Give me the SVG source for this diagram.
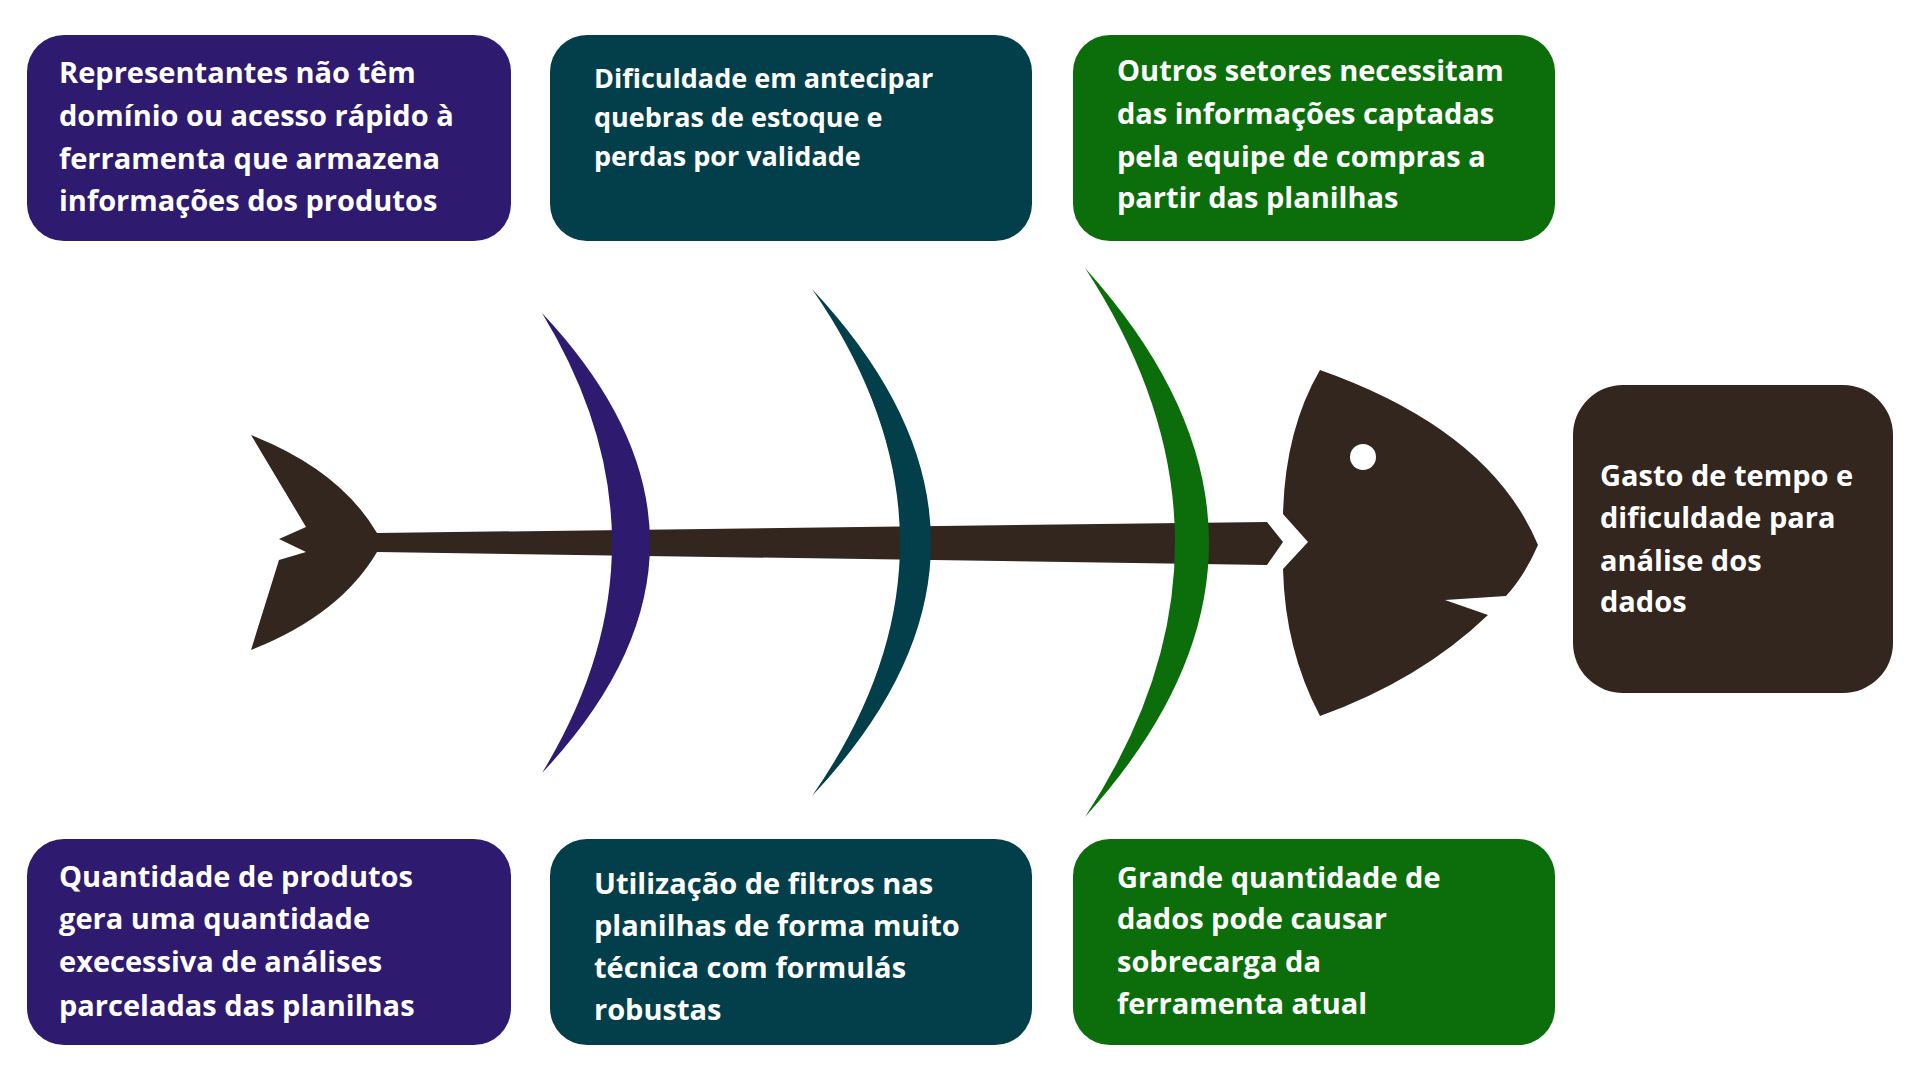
<svg xmlns="http://www.w3.org/2000/svg" width="1920" height="1080" viewBox="0 0 1920 1080">
<style>
.t{font-family:"Open Sans","Noto Sans",sans-serif;font-weight:bold;fill:#fff;font-size:29px}
.s{font-size:27px}
.p{fill:#2e1a6e}.c{fill:#033f4a}.g{fill:#0b6e0b}.b{fill:#32261f}
</style>
<rect width="1920" height="1080" fill="#fff"/>
<g id="fish">
<path class="b" d="M251,435 Q340,470 377,533 L1267,522 L1283,542 L1267,565 L377,552 Q340,615 251,650 L279,560 L306,552 L279,539 L306,527 Z"/>
<path class="b" d="M1320,370 Q1490,430 1538,545 Q1525,575 1506,596 L1445,600 L1488,615 Q1420,680 1320,716 Q1285,650 1283,569 L1308,542 L1283,514 Q1285,430 1320,370 Z"/>
<circle cx="1363" cy="457" r="13" fill="#fff"/>
</g>
<g id="connectors">
<path class="p" d="M542,313 Q758,543 542,773 Q682,543 542,313 Z"/>
<path class="c" d="M812,289 Q1050,543 812,796 Q988,543 812,289 Z"/>
<path class="g" d="M1085,268 Q1333,543 1085,817 Q1265,543 1085,268 Z"/>
</g>
<g id="n1"><rect class="p" x="27" y="35" width="484" height="206" rx="37"/>
<text class="t"><tspan x="59" y="83">Representantes não têm</tspan><tspan x="59" y="126">domínio ou acesso rápido à</tspan><tspan x="59" y="169">ferramenta que armazena</tspan><tspan x="59" y="211">informações dos produtos</tspan></text></g>
<g id="n2"><rect class="c" x="550" y="35" width="482" height="206" rx="37"/>
<text class="t s"><tspan x="594" y="88">Dificuldade em antecipar</tspan><tspan x="594" y="127">quebras de estoque e</tspan><tspan x="594" y="166">perdas por validade</tspan></text></g>
<g id="n3"><rect class="g" x="1073" y="35" width="482" height="206" rx="37"/>
<text class="t"><tspan x="1117" y="81">Outros setores necessitam</tspan><tspan x="1117" y="124">das informações captadas</tspan><tspan x="1117" y="167">pela equipe de compras a</tspan><tspan x="1117" y="208">partir das planilhas</tspan></text></g>
<g id="n4"><rect class="p" x="27" y="839" width="484" height="206" rx="37"/>
<text class="t"><tspan x="59" y="887">Quantidade de produtos</tspan><tspan x="59" y="929">gera uma quantidade</tspan><tspan x="59" y="972">execessiva de análises</tspan><tspan x="59" y="1016">parceladas das planilhas</tspan></text></g>
<g id="n5"><rect class="c" x="550" y="839" width="482" height="206" rx="37"/>
<text class="t"><tspan x="594" y="894">Utilização de filtros nas</tspan><tspan x="594" y="936">planilhas de forma muito</tspan><tspan x="594" y="978">técnica com formulás</tspan><tspan x="594" y="1020">robustas</tspan></text></g>
<g id="n6"><rect class="g" x="1073" y="839" width="482" height="206" rx="37"/>
<text class="t"><tspan x="1117" y="888">Grande quantidade de</tspan><tspan x="1117" y="929">dados pode causar</tspan><tspan x="1117" y="972">sobrecarga da</tspan><tspan x="1117" y="1014">ferramenta atual</tspan></text></g>
<g id="effect"><rect class="b" x="1573" y="385" width="320" height="308" rx="50"/>
<text class="t"><tspan x="1600" y="486">Gasto de tempo e</tspan><tspan x="1600" y="528">dificuldade para</tspan><tspan x="1600" y="571">análise dos</tspan><tspan x="1600" y="612">dados</tspan></text></g>
</svg>
